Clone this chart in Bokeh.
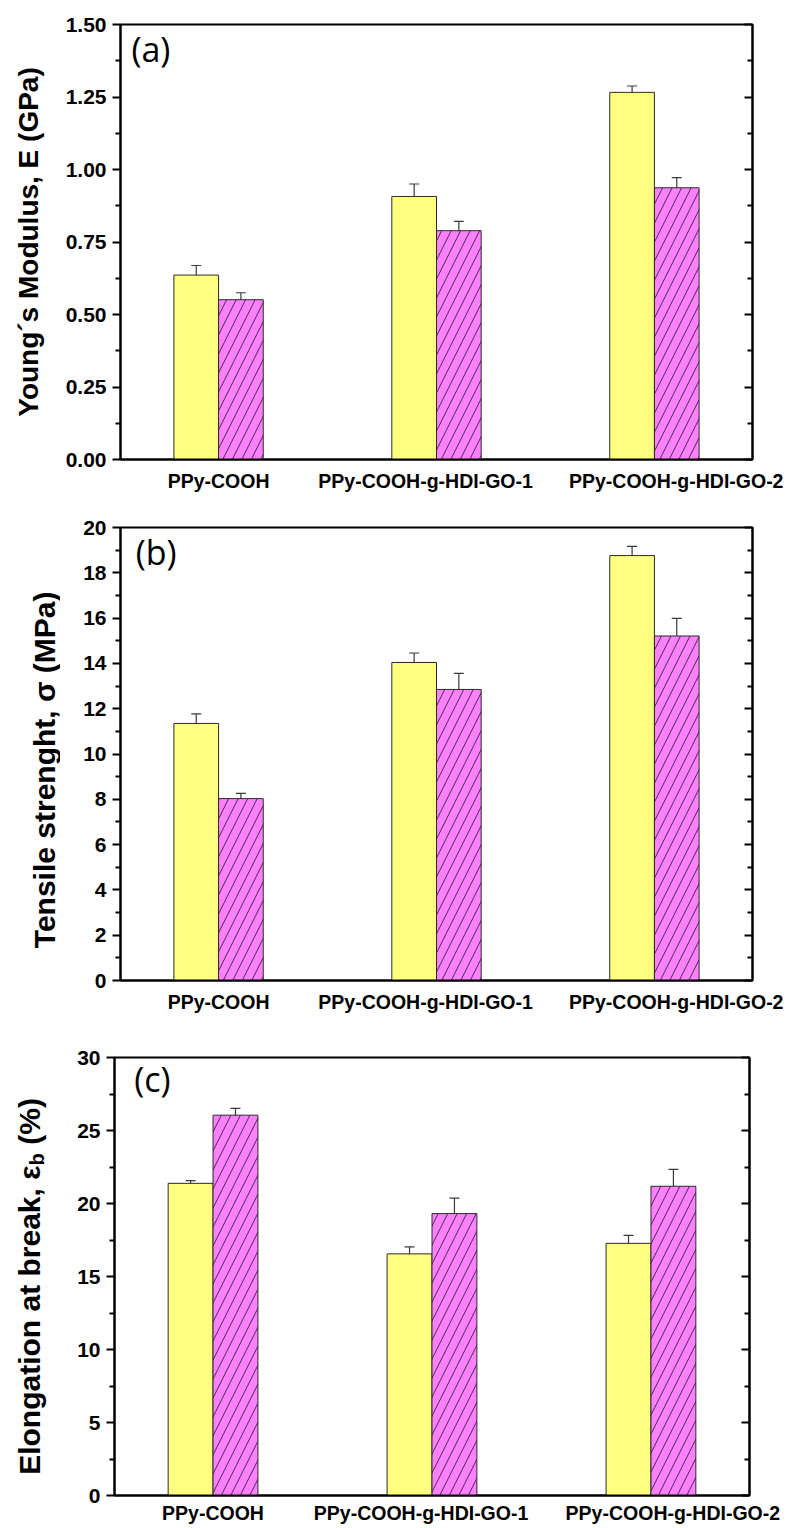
import math
from bokeh.plotting import figure
from bokeh.layouts import column, row
from bokeh.models import (ColumnDataSource, Whisker, TeeHead, LinearAxis, FixedTicker,
                          Range1d, Label, CustomJSTickFormatter, NumeralTickFormatter,
                          BasicTickFormatter)
from bokeh.core.properties import value
from bokeh.embed import file_html
from bokeh.resources import INLINE

# ---------------- data ----------------
categories = ["PPy-COOH", "PPy-COOH-g-HDI-GO-1", "PPy-COOH-g-HDI-GO-2"]

modulus_yellow = [0.636, 0.907, 1.266]
modulus_yellow_err = [0.033, 0.043, 0.022]
modulus_magenta = [0.551, 0.789, 0.937]
modulus_magenta_err = [0.024, 0.032, 0.035]

strength_yellow = [11.35, 14.04, 18.76]
strength_yellow_err = [0.42, 0.42, 0.41]
strength_magenta = [8.03, 12.85, 15.21]
strength_magenta_err = [0.23, 0.71, 0.78]

elong_yellow = [21.38, 16.55, 17.27]
elong_yellow_err = [0.18, 0.48, 0.55]
elong_magenta = [26.05, 19.31, 21.18]
elong_magenta_err = [0.47, 1.06, 1.16]

ticks_a = [0, 0.25, 0.5, 0.75, 1.0, 1.25, 1.5]
minor_a = [0.125, 0.375, 0.625, 0.875, 1.125, 1.375]
ticks_b = [0, 2, 4, 6, 8, 10, 12, 14, 16, 18, 20]
minor_b = [1, 3, 5, 7, 9, 11, 13, 15, 17, 19]
ticks_c = [0, 5, 10, 15, 20, 25, 30]
minor_c = [2.5, 7.5, 12.5, 17.5, 22.5, 27.5]

# ---------------- style ----------------
YELLOW = "#FFFF80"
MAGENTA = "#FF80FF"
FONT = "Liberation Sans"
BAR_W = 0.205
OFF = BAR_W / 2
LABEL_SHIFT = [0.0, -0.05, 0.10]   # category-label nudges (as in the original)


def make_panel(yv, ye, mv, me, ymax, ticks, minor, fmt, letter, letter_pos,
               ylabel, ylabel_size, ylabel_standoff, width, height,
               left, right, top, bottom, cat_standoff=10):
    p = figure(width=width, height=height,
               x_range=Range1d(-0.45, 2.45), y_range=Range1d(0, ymax),
               output_backend="svg", toolbar_location=None,
               min_border_left=left, min_border_right=right,
               min_border_top=top, min_border_bottom=bottom,
               x_axis_type=None, y_axis_type=None)
    p.grid.visible = False
    p.outline_line_color = "black"
    p.outline_line_width = 2
    p.background_fill_color = "white"
    p.border_fill_color = "white"

    xs_y = [i - OFF for i in range(len(categories))]
    xs_m = [i + OFF for i in range(len(categories))]

    p.vbar(x=xs_y, top=yv, bottom=0, width=BAR_W, fill_color=YELLOW,
           line_color="#2a2a2a", line_width=1)
    p.vbar(x=xs_m, top=mv, bottom=0, width=BAR_W, fill_color=MAGENTA,
           line_color="#2a2a2a", line_width=1,
           hatch_pattern="right_diagonal_line", hatch_color="#2a2030",
           hatch_scale=19, hatch_weight=0.9)

    for xs, vals, errs in ((xs_y, yv, ye), (xs_m, mv, me)):
        src = ColumnDataSource(dict(x=xs,
                                    upper=[v + e for v, e in zip(vals, errs)],
                                    lower=[v - e for v, e in zip(vals, errs)]))
        w = Whisker(base="x", upper="upper", lower="lower", source=src,
                    line_color="#3a3a3a", line_width=1.2,
                    upper_head=TeeHead(size=10, line_color="#3a3a3a", line_width=1.2),
                    lower_head=TeeHead(size=10, line_color="#3a3a3a", line_width=1.2))
        p.add_layout(w)

    ticker = FixedTicker(ticks=ticks, minor_ticks=minor)

    # left axis
    la = LinearAxis(ticker=ticker, formatter=fmt)
    la.axis_line_width = 2
    la.major_tick_line_width = 2
    la.minor_tick_line_width = 2
    la.major_tick_out = 8
    la.major_tick_in = 0
    la.minor_tick_out = 5
    la.minor_tick_in = 0
    la.major_label_standoff = 6
    la.major_label_text_font = FONT
    la.major_label_text_font_style = "bold"
    la.major_label_text_font_size = "21px"
    la.major_label_text_color = "black"
    if ylabel:
        la.axis_label = ylabel
        la.axis_label_text_font = FONT
        la.axis_label_text_font_style = "bold"
        la.axis_label_text_font_size = ylabel_size
        la.axis_label_text_color = "black"
        la.axis_label_standoff = ylabel_standoff
    p.add_layout(la, "left")

    # right axis: mirrored inward ticks, no labels
    ra = LinearAxis(ticker=ticker,
                    formatter=CustomJSTickFormatter(code="return ''"))
    ra.axis_line_width = 2
    ra.major_tick_line_width = 2
    ra.minor_tick_line_width = 2
    ra.major_tick_in = 8
    ra.major_tick_out = 0
    ra.minor_tick_in = 5
    ra.minor_tick_out = 0
    ra.major_label_standoff = 0
    p.add_layout(ra, "right")

    # bottom axis: category labels, no ticks
    label_pos = [i + d for i, d in enumerate(LABEL_SHIFT)]
    ba = LinearAxis(ticker=FixedTicker(ticks=label_pos, minor_ticks=[]),
                    formatter=CustomJSTickFormatter(
                        args=dict(labels=categories, pos=label_pos),
                        code="""
let best = 0, bd = 1e9;
for (let k = 0; k < pos.length; k++) {
  const d = Math.abs(pos[k] - tick);
  if (d < bd) { bd = d; best = k; }
}
return labels[best];
"""))
    ba.axis_line_width = 2
    ba.major_tick_line_color = None
    ba.minor_tick_line_color = None
    ba.major_tick_out = 0
    ba.major_tick_in = 0
    ba.major_label_standoff = cat_standoff
    ba.major_label_text_font = FONT
    ba.major_label_text_font_style = "bold"
    ba.major_label_text_font_size = "19.5px"
    ba.major_label_text_color = "black"
    p.add_layout(ba, "below")

    p.add_layout(Label(x=letter_pos[0], y=letter_pos[1], text=letter,
                       text_font="Open Sans", text_font_size="34px",
                       text_baseline="top", text_align="left",
                       text_color="black"))
    return p


def label_strip(target, height, top, bottom):
    s = figure(width=60, height=height, x_range=Range1d(0, 60), y_range=target.y_range,
               output_backend="svg", toolbar_location=None,
               min_border_left=0, min_border_right=0, min_border_top=top,
               min_border_bottom=bottom, x_axis_type=None, y_axis_type=None)
    s.grid.visible = False
    s.outline_line_color = None
    s.background_fill_color = "white"
    s.border_fill_color = "white"
    return s


# ---------- panel (a) ----------
pa = make_panel(modulus_yellow, modulus_yellow_err, modulus_magenta, modulus_magenta_err,
                1.5, ticks_a, minor_a, NumeralTickFormatter(format="0.00"),
                "(a)", (-0.40, 1.494), "Young\u00b4s Modulus, E (GPa)", "28px", 19,
                786, 497, 120, 34, 24, 38)

# ---------- panel (b) ----------
pb = make_panel(strength_yellow, strength_yellow_err, strength_magenta, strength_magenta_err,
                20, ticks_b, minor_b, BasicTickFormatter(),
                "(b)", (-0.38, 19.95), None, None, 0,
                726, 530, 60, 34, 30, 47)
sb = label_strip(pb, 530, 30, 47)
sb.text(x=[44], y=[9.3], text=["Tensile strenght, \u03c3 (MPa)"],
        angle=math.pi / 2, text_align="center", text_baseline="alphabetic",
        text_font=value(FONT), text_font_style="bold", text_font_size="30px",
        text_color="black")

# ---------- panel (c) ----------
pc = make_panel(elong_yellow, elong_yellow_err, elong_magenta, elong_magenta_err,
                30, ticks_c, minor_c, BasicTickFormatter(),
                "(c)", (-0.36, 30.1), None, None, 0,
                726, 499, 54, 37, 30, 28, cat_standoff=6)
sc = label_strip(pc, 499, 30, 28)
label_x = 29
anchor_y = 22.6
sc.text(x=[label_x], y=[anchor_y], text=["Elongation at break, \u03b5"],
        angle=math.pi / 2, text_align="right", text_baseline="alphabetic",
        text_font=value(FONT), text_font_style="bold", text_font_size="30px",
        text_color="black")
sc.text(x=[label_x], y=[anchor_y], text=["b"],
        angle=math.pi / 2, text_align="left", text_baseline="alphabetic",
        text_font=value(FONT), text_font_style="bold", text_font_size="20px",
        text_color="black", x_offset=7)
sc.text(x=[label_x], y=[anchor_y + 21.0 / 14.7], text=["(%)"],
        angle=math.pi / 2, text_align="left", text_baseline="alphabetic",
        text_font=value(FONT), text_font_style="bold", text_font_size="30px",
        text_color="black")

layout = column(pa, row(sb, pb, spacing=0), row(sc, pc, spacing=0), spacing=0)
open("out.html", "w").write(file_html(layout, INLINE))
